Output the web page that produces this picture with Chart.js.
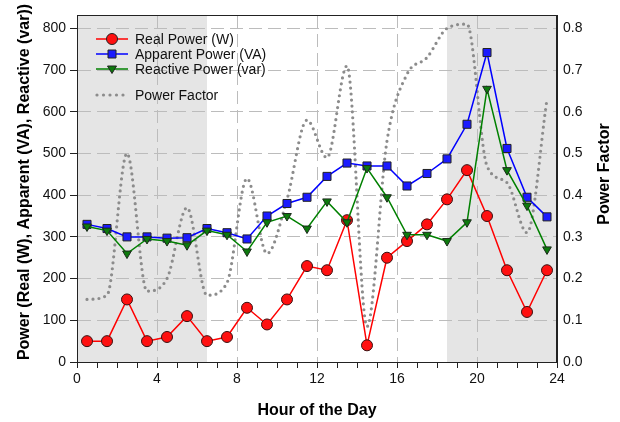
<!DOCTYPE html>
<html>
<head>
<meta charset="utf-8">
<script src="https://cdn.jsdelivr.net/npm/chart.js@4.4.0/dist/chart.umd.min.js"></script>
<style>
  html, body { margin: 0; padding: 0; background: #fff; }
  #wrap { width: 620px; height: 422px; }
</style>
</head>
<body>
<div id="wrap"><canvas id="chart" width="620" height="422"></canvas></div>
<script>
// Hourly readings
const hours = [0.5, 1.5, 2.5, 3.5, 4.5, 5.5, 6.5, 7.5, 8.5, 9.5, 10.5, 11.5,
               12.5, 13.5, 14.5, 15.5, 16.5, 17.5, 18.5, 19.5, 20.5, 21.5, 22.5, 23.5];
const realPower = [50, 50, 150, 50, 60, 110, 50, 60, 130, 90, 150, 230,
                   220, 340, 40, 250, 290, 330, 390, 460, 350, 220, 120, 220];
const apparentPower = [330, 320, 300, 300, 297, 298, 320, 310, 295, 350, 380, 395,
                       445, 477, 470, 470, 422, 452, 487, 570, 742, 512, 395, 348];
const reactivePower = [325, 315, 260, 295, 290, 280, 315, 305, 265, 335, 350, 320,
                       385, 335, 465, 395, 305, 305, 290, 335, 655, 460, 375, 270];
const powerFactor = [0.15, 0.16, 0.50, 0.17, 0.20, 0.37, 0.16, 0.19, 0.44, 0.26, 0.39, 0.58,
                     0.49, 0.71, 0.085, 0.53, 0.69, 0.73, 0.80, 0.81, 0.47, 0.43, 0.31, 0.63];

// Axis ticks and labels
const xTickValues = [0, 4, 8, 12, 16, 20, 24];
const leftTickValues = [0, 100, 200, 300, 400, 500, 600, 700, 800];
const rightTickValues = [0, 0.1, 0.2, 0.3, 0.4, 0.5, 0.6, 0.7, 0.8];
const shadedHours = [[0, 6.5], [18.5, 24]];

const legendItems = [
    { label: 'Real Power (W)', color: '#ff0000', fill: '#ff1010', marker: 'circle' },
    { label: 'Apparent Power (VA)', color: '#0000ff', fill: '#1a1aff', marker: 'rect' },
    { label: 'Reactive Power (var)', color: '#008000', fill: '#0d7a0d', marker: 'triangle' },
    { label: 'Power Factor', color: '#8c8c8c', marker: 'dots' }
];

const FONT = '"Liberation Sans", Arial, Helvetica, sans-serif';
Chart.defaults.font.family = FONT;
Chart.defaults.color = '#111';

const toPoints = ys => hours.map((h, i) => ({ x: h, y: ys[i] }));

// grey shaded night-time bands, under the grid
const shadePlugin = {
    id: 'shade',
    beforeDraw(chart) {
        const { ctx, chartArea, scales } = chart;
        ctx.save();
        ctx.fillStyle = '#e5e5e5';
        shadedHours.forEach(([a, b]) => {
            const x1 = scales.x.getPixelForValue(a);
            const x2 = scales.x.getPixelForValue(b);
            ctx.fillRect(x1, chartArea.top, x2 - x1, chartArea.bottom - chartArea.top);
        });
        ctx.restore();
    }
};

function drawMarker(ctx, type, x, y, fill, stroke) {
    ctx.beginPath();
    if (type === 'circle') {
        ctx.arc(x, y, 5.5, 0, Math.PI * 2);
    } else if (type === 'rect') {
        ctx.rect(x - 4, y - 4, 8, 8);
    } else if (type === 'triangle') {
        ctx.moveTo(x - 4.5, y - 3);
        ctx.lineTo(x + 4.5, y - 3);
        ctx.lineTo(x, y + 4.5);
        ctx.closePath();
    }
    ctx.fillStyle = fill;
    ctx.fill();
    ctx.lineWidth = 1;
    ctx.strokeStyle = stroke;
    ctx.stroke();
}

// frame, legend and axis titles
const decorPlugin = {
    id: 'decor',
    afterDraw(chart) {
        const { ctx, chartArea } = chart;
        ctx.save();
        ctx.strokeStyle = '#222';
        ctx.lineWidth = 1;
        ctx.strokeRect(Math.round(chartArea.left) + 0.5, Math.round(chartArea.top) + 0.5,
            Math.round(chartArea.right - chartArea.left) - 1, Math.round(chartArea.bottom - chartArea.top));

        // legend
        const rows = [39, 54, 69, 95];
        ctx.font = '14px ' + FONT;
        ctx.textBaseline = 'middle';
        legendItems.forEach((item, i) => {
            const y = rows[i];
            if (item.marker === 'dots') {
                ctx.fillStyle = item.color;
                for (let k = 0; k < 5; k++) {
                    ctx.beginPath();
                    ctx.arc(97 + k * 6.5, y, 1.6, 0, Math.PI * 2);
                    ctx.fill();
                }
            } else {
                ctx.strokeStyle = item.color;
                ctx.lineWidth = 1.5;
                ctx.beginPath();
                ctx.moveTo(96, y);
                ctx.lineTo(128, y);
                ctx.stroke();
                drawMarker(ctx, item.marker, 112, y, item.fill, '#222');
            }
            ctx.fillStyle = '#111';
            ctx.fillText(item.label, 135, y + 1);
        });

        // axis titles
        ctx.fillStyle = '#000';
        ctx.font = 'bold 16px ' + FONT;
        ctx.textAlign = 'center';
        ctx.textBaseline = 'middle';
        ctx.fillText('Hour of the Day', (chartArea.left + chartArea.right) / 2, 411);

        ctx.save();
        ctx.translate(25, 182);
        ctx.rotate(-Math.PI / 2);
        ctx.fillText('Power (Real (W), Apparent (VA), Reactive (var))', 0, 0);
        ctx.restore();

        ctx.save();
        ctx.translate(605, 174);
        ctx.rotate(-Math.PI / 2);
        ctx.fillText('Power Factor', 0, 0);
        ctx.restore();
        ctx.restore();
    }
};

const gridColor = '#bcbcbc';

new Chart(document.getElementById('chart'), {
    type: 'line',
    data: {
        datasets: [
            {
                label: 'Reactive Power (var)',
                data: toPoints(reactivePower),
                borderColor: '#008000',
                borderWidth: 1.5,
                pointStyle: 'triangle',
                rotation: 180,
                pointRadius: 5,
                backgroundColor: '#0d7a0d',
                pointBorderColor: '#1a2a1a',
                pointBorderWidth: 1,
                yAxisID: 'y'
            },
            {
                label: 'Apparent Power (VA)',
                data: toPoints(apparentPower),
                borderColor: '#0000ff',
                borderWidth: 1.5,
                pointStyle: 'rect',
                pointRadius: 5.7,
                backgroundColor: '#1a1aff',
                pointBorderColor: '#222',
                pointBorderWidth: 1,
                yAxisID: 'y'
            },
            {
                label: 'Real Power (W)',
                data: toPoints(realPower),
                borderColor: '#ff0000',
                borderWidth: 1.5,
                pointStyle: 'circle',
                pointRadius: 5.5,
                backgroundColor: '#ff1010',
                pointBorderColor: '#3a1010',
                pointBorderWidth: 1,
                yAxisID: 'y'
            },
            {
                label: 'Power Factor',
                data: toPoints(powerFactor),
                borderColor: '#8c8c8c',
                borderWidth: 3.2,
                borderDash: [0, 6],
                borderCapStyle: 'round',
                cubicInterpolationMode: 'monotone',
                pointRadius: 0,
                yAxisID: 'y1'
            }
        ]
    },
    options: {
        responsive: false,
        animation: false,
        layout: { padding: { top: 15, left: 0, right: 0, bottom: 0 } },
        plugins: { legend: { display: false }, tooltip: { enabled: false } },
        scales: {
            x: {
                type: 'linear',
                position: 'bottom',
                min: 0,
                max: 24,
                afterFit: s => { s.height = 60; },
                ticks: {
                    stepSize: 1,
                    autoSkip: false,
                    maxRotation: 0,
                    font: { size: 14 },
                    padding: 3,
                    callback: v => (xTickValues.includes(v) ? v : '')
                },
                grid: {
                    color: c => (c.tick && xTickValues.includes(c.tick.value) ? gridColor : 'rgba(0,0,0,0)'),
                    tickColor: '#222',
                    tickLength: 6,
                    tickBorderDash: []
                },
                border: { color: '#222', width: 1, dash: [13, 6] }
            },
            y: {
                position: 'left',
                min: 0,
                max: 832,
                afterFit: s => { s.width = 77; },
                afterBuildTicks: s => { s.ticks = leftTickValues.map(v => ({ value: v })); },
                ticks: { font: { size: 14 }, padding: 4 },
                grid: {
                    color: gridColor,
                    tickColor: '#222',
                    tickLength: 7,
                    tickBorderDash: []
                },
                border: { color: '#222', width: 1, dash: [13, 6] }
            },
            y1: {
                position: 'right',
                min: 0,
                max: 0.832,
                afterFit: s => { s.width = 63; },
                afterBuildTicks: s => { s.ticks = rightTickValues.map(v => ({ value: v })); },
                ticks: {
                    font: { size: 14 },
                    padding: 6,
                    callback: v => Number(v).toFixed(1)
                },
                grid: { drawOnChartArea: false, drawTicks: false },
                border: { color: '#222', width: 1 }
            }
        }
    },
    plugins: [shadePlugin, decorPlugin]
});
</script>
</body>
</html>
